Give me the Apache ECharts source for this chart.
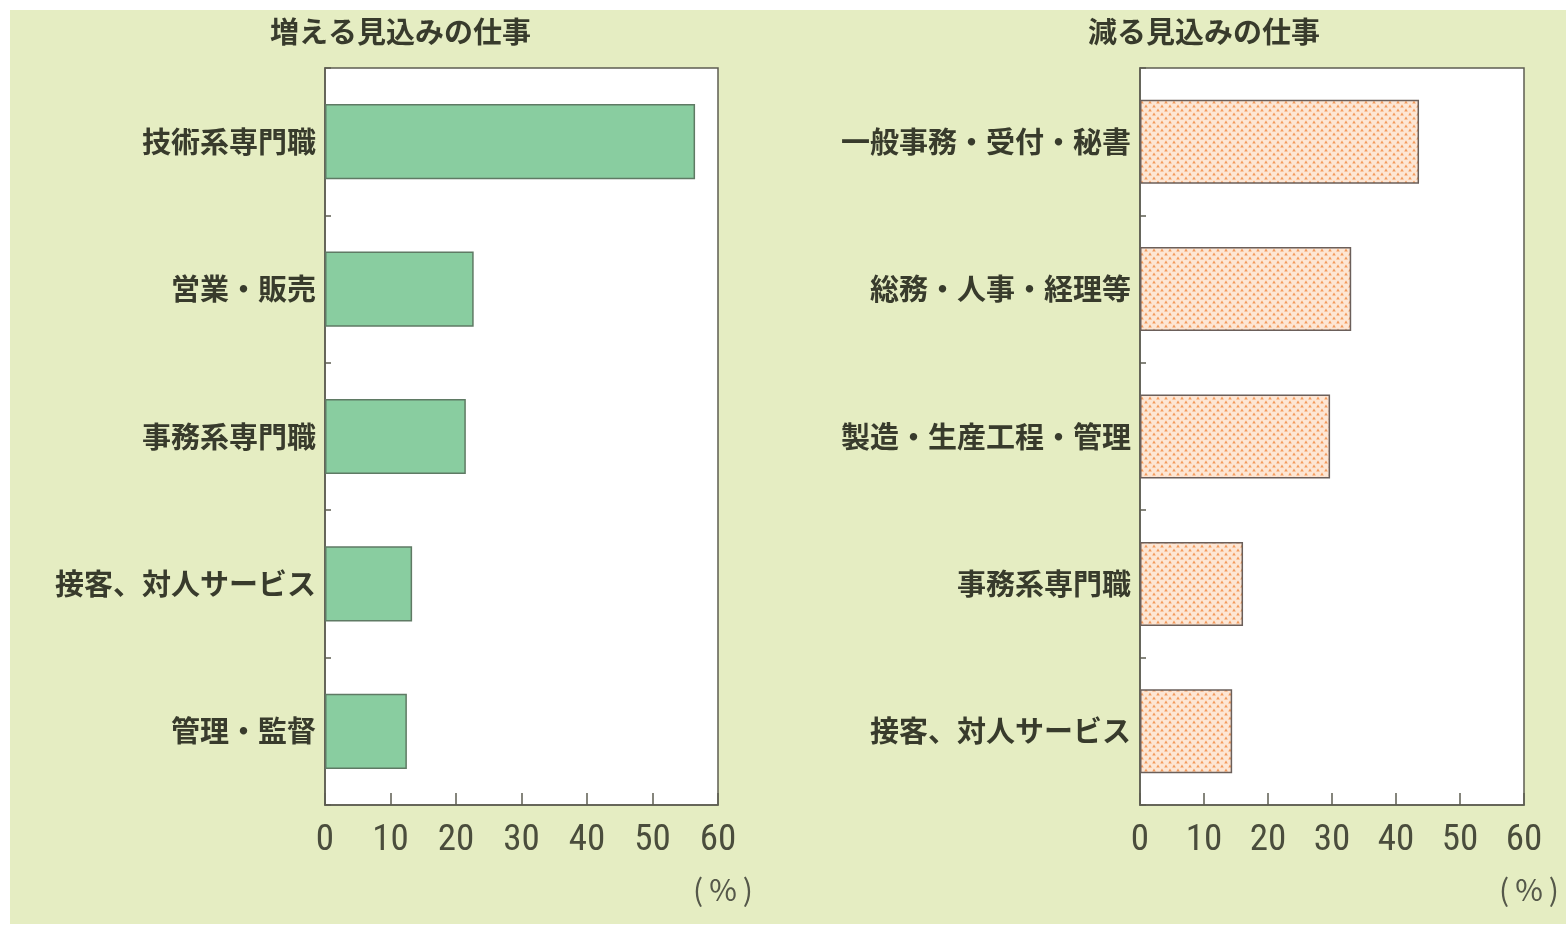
<!DOCTYPE html>
<html><head><meta charset="utf-8">
<script src="https://cdn.jsdelivr.net/npm/echarts@6/dist/echarts.min.js"></script>
<style>html,body{margin:0;padding:0;background:#fff}#c{width:1566px;height:926px}</style>
</head><body><div id="c"></div>
<script>
const incTitle = '増える見込みの仕事';
const decTitle = '減る見込みの仕事';
const incCategories = ['技術系専門職', '営業・販売', '事務系専門職', '接客、対人サービス', '管理・監督'];
const incValues = [56.5, 22.7, 21.5, 13.3, 12.5];
const decCategories = ['一般事務・受付・秘書', '総務・人事・経理等', '製造・生産工程・管理', '事務系専門職', '接客、対人サービス'];
const decValues = [43.6, 33.0, 29.7, 16.1, 14.4];
const xTicks = [0, 10, 20, 30, 40, 50, 60];
const unitLabel = '(\u2009%\u2009)';

// pattern for the "decrease" bars
const pc = document.createElement('canvas');
pc.width = 8; pc.height = 8;
const px = pc.getContext('2d');
px.fillStyle = '#fde6d4'; px.fillRect(0, 0, 8, 8);
px.fillStyle = '#f39a5c';
px.beginPath(); px.moveTo(2, 0.5); px.lineTo(3.8, 3.4); px.lineTo(0.2, 3.4); px.closePath(); px.fill();
px.beginPath(); px.moveTo(6, 4.5); px.lineTo(7.8, 7.4); px.lineTo(4.2, 7.4); px.closePath(); px.fill();

const chart = echarts.init(document.getElementById('c'));
const font = '"Noto Sans CJK JP", "Noto Sans", sans-serif';
const txt = '#383b2c';
const axisCol = '#5d5d52';

function xAxis(gi) {
  return {
    gridIndex: gi, type: 'value', min: 0, max: 60, interval: 10,
    axisLine: { show: true, lineStyle: { color: axisCol, width: 1.5 } },
    axisTick: { show: true, inside: true, length: 12, lineStyle: { color: axisCol, width: 1.5 } },
    splitLine: { show: false },
    axisLabel: { color: '#4a4d3c', fontSize: 37, fontFamily: '"Liberation Sans Narrow", "Roboto Condensed", "Noto Sans", sans-serif', margin: 17,
      formatter: v => xTicks.includes(v) ? String(v) : '' }
  };
}
function yAxis(gi, cats) {
  return {
    gridIndex: gi, type: 'category', data: cats, inverse: true,
    axisLine: { show: true, lineStyle: { color: axisCol, width: 1.5 } },
    axisTick: { show: true, inside: true, length: 6, lineStyle: { color: axisCol, width: 1.5 } },
    axisLabel: { color: txt, fontSize: 29, fontFamily: font, fontWeight: 'bold', margin: 9, padding: [6, 0, 0, 0] }
  };
}

chart.setOption({
  animation: false,
  backgroundColor: '#ffffff',
  graphic: [
    { type: 'rect', shape: { x: 10, y: 10, width: 1556, height: 914 }, style: { fill: '#e5edc2' }, z: -10 },
    { type: 'text', left: 270, top: 17, style: { text: incTitle, fill: txt, font: 'bold 29px ' + font } },
    { type: 'text', left: 1088, top: 17, style: { text: decTitle, fill: txt, font: 'bold 29px ' + font } },
    { type: 'text', left: 693, top: 875, style: { text: unitLabel, fill: '#55584a', font: '30px "Liberation Sans Narrow", ' + font } },
    { type: 'text', left: 1499, top: 875, style: { text: unitLabel, fill: '#55584a', font: '30px "Liberation Sans Narrow", ' + font } }
  ],
  grid: [
    { left: 325, top: 68, width: 393, height: 737, show: true, backgroundColor: '#ffffff', borderColor: axisCol, borderWidth: 1.5 },
    { left: 1140, top: 68, width: 384, height: 737, show: true, backgroundColor: '#ffffff', borderColor: axisCol, borderWidth: 1.5 }
  ],
  xAxis: [xAxis(0), xAxis(1)],
  yAxis: [yAxis(0, incCategories), yAxis(1, decCategories)],
  series: [
    { type: 'bar', xAxisIndex: 0, yAxisIndex: 0, data: incValues, barWidth: '51%',
      itemStyle: { color: '#89cda0', borderColor: '#5f7a64', borderWidth: 1.5 } },
    { type: 'bar', xAxisIndex: 1, yAxisIndex: 1, data: decValues, barWidth: '57%',
      itemStyle: { color: { image: pc, repeat: 'repeat' }, borderColor: '#6b5f5a', borderWidth: 1.5 } }
  ]
});
</script></body></html>
